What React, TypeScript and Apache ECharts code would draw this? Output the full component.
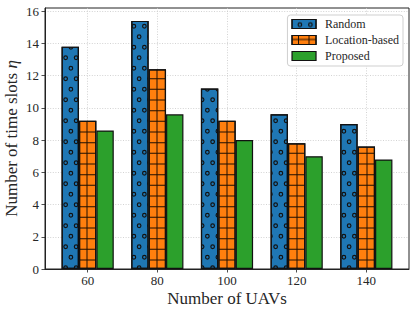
import React, { useEffect, useRef } from "react";
import * as echarts from "echarts";

// ---- data ----
const categories = [60, 80, 100, 120, 140];
const seriesNames = ["Random", "Location-based", "Proposed"];
const randomVals = [13.8, 15.4, 11.2, 9.6, 9.0];
const locationVals = [9.2, 12.4, 9.2, 7.8, 7.6];
const proposedVals = [8.6, 9.6, 8.0, 7.0, 6.8];
const yTicks = [0, 2, 4, 6, 8, 10, 12, 14, 16];

const FONT = "'Liberation Serif', 'DejaVu Serif', serif";
const TXT = "#262626";

// ---- hatch patterns (decals) ----
function ring(cx: number, cy: number, R: number, r: number) {
  return (
    `M${cx - R},${cy} A${R},${R} 0 1,0 ${cx + R},${cy} A${R},${R} 0 1,0 ${cx - R},${cy} Z ` +
    `M${cx - r},${cy} A${r},${r} 0 1,1 ${cx + r},${cy} A${r},${r} 0 1,1 ${cx - r},${cy} Z `
  );
}
function ringTile() {
  const T = 21;
  const R = 2.4;
  const r = 1.2;
  let d = "M0,0 L0.01,0 L0,0.01 Z M21,21 L20.99,21 L21,20.99 Z ";
  d += ring(7.875, 5.25, R, r) + ring(18.375, 5.25, R, r);
  d += ring(2.625, 15.75, R, r) + ring(13.125, 15.75, R, r);
  return { d, T };
}
function gridTile() {
  const W = 70;
  const H = 32;
  const vx = [6.5, 17, 27.5, 38, 48.5, 59];
  const hy = [4, 14.67, 25.33];
  let d = "";
  vx.forEach((x) => {
    d += `M${x - 0.5},0 L${x + 0.5},0 L${x + 0.5},${H} L${x - 0.5},${H} Z `;
  });
  hy.forEach((y) => {
    d += `M0,${y - 0.5} L${W},${y - 0.5} L${W},${y + 0.5} L0,${y + 0.5} Z `;
  });
  return { d, W, H };
}

const rt = ringTile();
const gt = gridTile();

const ringDecal = {
  symbol: "path://" + rt.d,
  symbolSize: 1,
  symbolKeepAspect: false,
  color: "#111",
  dashArrayX: [[rt.T, 0]],
  dashArrayY: [rt.T, 0],
  rotation: 0,
};
const gridDecal = {
  symbol: "path://" + gt.d,
  symbolSize: 1,
  symbolKeepAspect: false,
  color: "rgba(0,0,0,0.88)",
  dashArrayX: [[gt.W, 0]],
  dashArrayY: [gt.H, 0],
  rotation: 0,
};

const colors = ["#1f77b4", "#ff7f0e", "#2ca02c"];
const decals: any[] = [ringDecal, gridDecal];
const valueSets = [randomVals, locationVals, proposedVals];

function buildOption() {
  const gridLine = { color: "#c8c8c8", width: 0.8, type: [1, 1.6] as any };
  return {
    animation: false,
    grid: {
      left: 45,
      right: 7,
      top: 8,
      bottom: 45,
      containLabel: false,
      outerBoundsMode: "none",
      show: true,
      borderColor: "#222",
      borderWidth: 1,
      backgroundColor: "transparent",
    },
    legend: {
      orient: "vertical",
      right: 13,
      top: 15,
      itemWidth: 24,
      itemHeight: 9,
      itemGap: 4,
      icon: "rect",
      backgroundColor: "#fff",
      borderColor: "#cfcfcf",
      borderWidth: 1,
      borderRadius: 3,
      padding: [3, 4, 4, 4],
      itemStyle: { borderColor: "#111", borderWidth: 1.2 },
      textStyle: { fontFamily: FONT, fontSize: 12, color: TXT, lineHeight: 12, padding: [0, 0, 0, 4] },
      data: seriesNames,
    },
    xAxis: {
      type: "value",
      min: 47.75,
      max: 152.25,
      minInterval: 20,
      maxInterval: 20,
      name: "Number of UAVs",
      nameLocation: "middle",
      nameGap: 21,
      nameMoveOverlap: false,
      nameTextStyle: { fontFamily: FONT, fontSize: 17, color: TXT },
      axisLine: { show: true, lineStyle: { color: "#222", width: 1 } },
      axisTick: { show: true, customValues: categories, length: 3.5, lineStyle: { color: "#222", width: 0.8 } },
      axisLabel: { customValues: categories, margin: 5, fontFamily: FONT, fontSize: 13, color: TXT },
      splitLine: { show: true, lineStyle: gridLine },
    },
    yAxis: {
      type: "value",
      min: 0,
      max: 16.2,
      interval: 2,
      name: "Number of time slots {eta|η}",
      nameLocation: "middle",
      nameGap: 24,
      nameMoveOverlap: false,
      nameRotate: 90,
      nameTextStyle: {
        fontFamily: FONT,
        fontSize: 17,
        lineHeight: 20,
        color: TXT,
        rich: { eta: { fontFamily: FONT, fontSize: 17, lineHeight: 20, fontStyle: "italic", color: TXT } },
      },
      axisLine: { show: true, lineStyle: { color: "#222", width: 1 } },
      axisTick: { show: true, customValues: yTicks, length: 3.5, lineStyle: { color: "#222", width: 0.8 } },
      axisLabel: { customValues: yTicks, margin: 6, fontFamily: FONT, fontSize: 13, color: TXT },
      splitLine: { show: true, lineStyle: gridLine },
    },
    series: seriesNames.map((name, si) => ({
      type: "bar",
      name,
      barWidth: 17.4,
      barGap: "0%",
      data: categories.map((c, i) => [c, valueSets[si][i]]),
      itemStyle: {
        color: colors[si],
        borderColor: "#111",
        borderWidth: 1.2,
        ...(si < 2 ? { decal: decals[si] } : {}),
      },
    })),
  };
}

export default function App() {
  const ref = useRef<HTMLDivElement>(null);
  useEffect(() => {
    if (!ref.current) return;
    const chart = echarts.init(ref.current, null, { renderer: "svg" });
    chart.setOption(buildOption() as any);
    return () => chart.dispose();
  }, []);
  return (
    <div
      ref={ref}
      style={{ position: "fixed", left: 0, top: 0, width: 416, height: 314, background: "#fff" }}
    />
  );
}
